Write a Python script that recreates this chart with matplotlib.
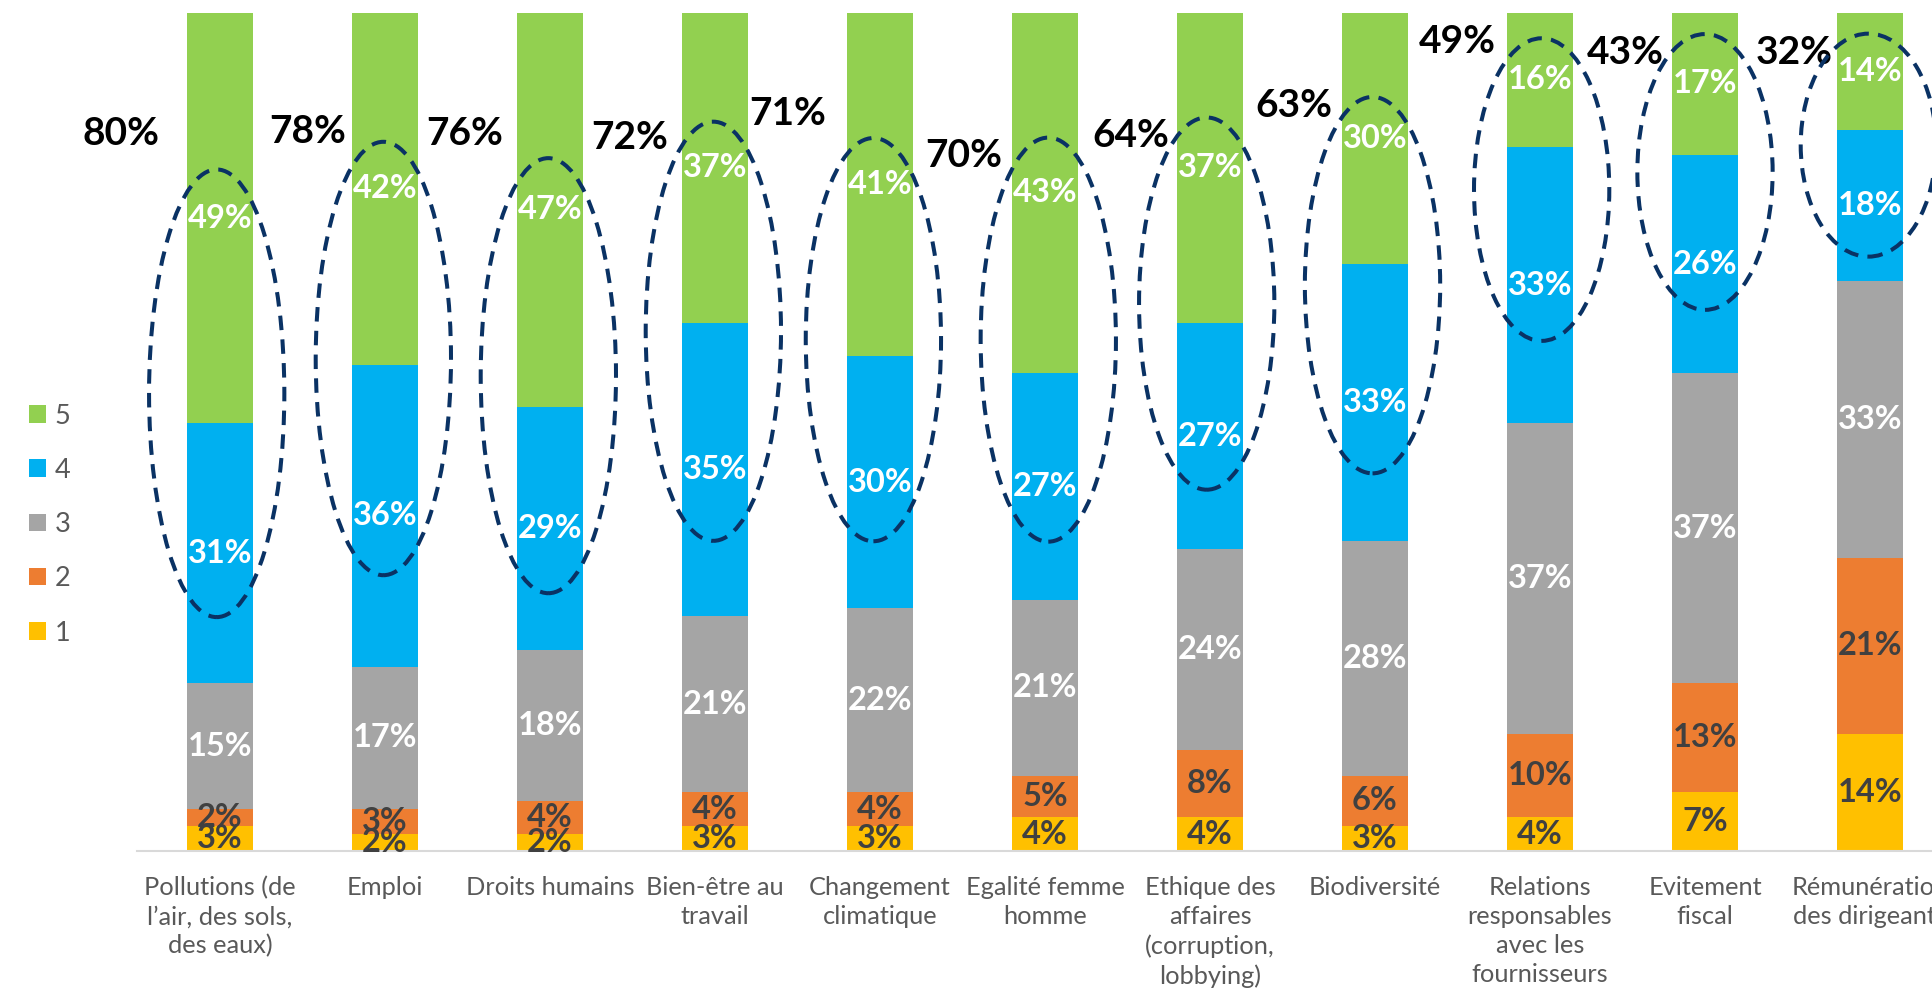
import matplotlib

matplotlib.use("Agg")
import matplotlib.pyplot as plt
import numpy as np
from matplotlib.patches import Ellipse

plt.rcParams["font.family"] = ["Lato", "DejaVu Sans"]

# categories (x axis) and share of answers per score, in %
CATEGORIES = [
    "Pollutions (de\nl’air, des sols,\ndes eaux)",
    "Emploi",
    "Droits humains",
    "Bien-être au\ntravail",
    "Changement\nclimatique",
    "Egalité femme\nhomme",
    "Ethique des\naffaires\n(corruption,\nlobbying)",
    "Biodiversité",
    "Relations\nresponsables\navec les\nfournisseurs",
    "Evitement\nfiscal",
    "Rémunération\ndes dirigeants",
]
SCORE_1 = [3, 2, 2, 3, 3, 4, 4, 3, 4, 7, 14]
SCORE_2 = [2, 3, 4, 4, 4, 5, 8, 6, 10, 13, 21]
SCORE_3 = [15, 17, 18, 21, 22, 21, 24, 28, 37, 37, 33]
SCORE_4 = [31, 36, 29, 35, 30, 27, 27, 33, 33, 26, 18]
SCORE_5 = [49, 42, 47, 37, 41, 43, 37, 30, 16, 17, 14]

SERIES = [
    ("1", SCORE_1, "#FFC000", "#404040"),
    ("2", SCORE_2, "#ED7D31", "#404040"),
    ("3", SCORE_3, "#A5A5A5", "white"),
    ("4", SCORE_4, "#00B0F0", "white"),
    ("5", SCORE_5, "#92D050", "white"),
]

# hand placed call-outs (top-2 total), offset from bar centre / height in %
TOTAL_DX = [-0.60, -0.47, -0.52, -0.52, -0.56, -0.49, -0.48, -0.49, -0.50, -0.48, -0.46]
TOTAL_Y = [85.6, 85.8, 85.6, 85.1, 88.0, 83.0, 85.3, 88.9, 96.6, 95.2, 95.3]

# dashed ellipses around scores 4 + 5
ELL_DX = [-0.02, -0.01, -0.01, -0.01, -0.04, 0.02, -0.02, -0.015, 0.01, 0.0, -0.01]
ELL_Y = [54.6, 58.75, 56.7, 62.0, 61.0, 61.0, 65.3, 67.5, 78.9, 81.0, 84.2]
ELL_H = [53.4, 51.7, 51.9, 50.0, 48.1, 48.2, 44.4, 44.9, 36.1, 32.9, 26.6]
ELL_W = 0.82

W, H = 1933, 996
fig = plt.figure(figsize=(W / 100, H / 100), dpi=100)
ax = fig.add_axes([137.5 / W, (H - 851) / H, 1815 / W, (851 - 12.7) / H])

x = np.arange(len(CATEGORIES))
bottom = np.zeros(len(CATEGORIES))
handles = []
for name, vals, color, txt in SERIES:
    vals = np.array(vals)
    bars = ax.bar(x, vals, 0.4, bottom=bottom, color=color, label=name, zorder=2)
    ax.bar_label(bars, labels=[f"{v}%" for v in vals], label_type="center",
                 color=txt, fontsize=23.5, fontweight="bold", zorder=4)
    bottom += vals
    handles.append(bars)

for i in range(len(CATEGORIES)):
    total = SCORE_4[i] + SCORE_5[i]
    ax.text(i + TOTAL_DX[i], TOTAL_Y[i], f"{total}%", ha="center", va="center",
            fontsize=28, fontweight="bold", color="black", zorder=5)
    ax.add_patch(Ellipse((i + ELL_DX[i], ELL_Y[i]), ELL_W, ELL_H[i], fill=False,
                         edgecolor="#0A3264", lw=2.9, linestyle=(0, (3.6, 2.3)),
                         zorder=6, clip_on=False))

ax.set_xlim(-0.5, len(CATEGORIES) - 0.5)
ax.set_ylim(0, 100)
ax.set_xticks(x)
ax.set_xticklabels(CATEGORIES, fontsize=18.3, color="#595959", linespacing=1.315)
ax.tick_params(axis="x", length=0, pad=18)
ax.set_yticks([])
for side in ("top", "right", "left"):
    ax.spines[side].set_visible(False)
ax.spines["bottom"].set_color("#D9D9D9")
ax.spines["bottom"].set_linewidth(1.5)

fig.legend(handles[::-1], [s[0] for s in SERIES][::-1], loc="center left",
           bbox_to_anchor=(15 / W, (H - 524.5) / H), frameon=False,
           fontsize=19.5, labelcolor="#595959", borderpad=0, labelspacing=1.08,
           handlelength=0.66, handleheight=0.62, handletextpad=0.3)

fig.savefig("out.png", dpi=100, facecolor="white")
